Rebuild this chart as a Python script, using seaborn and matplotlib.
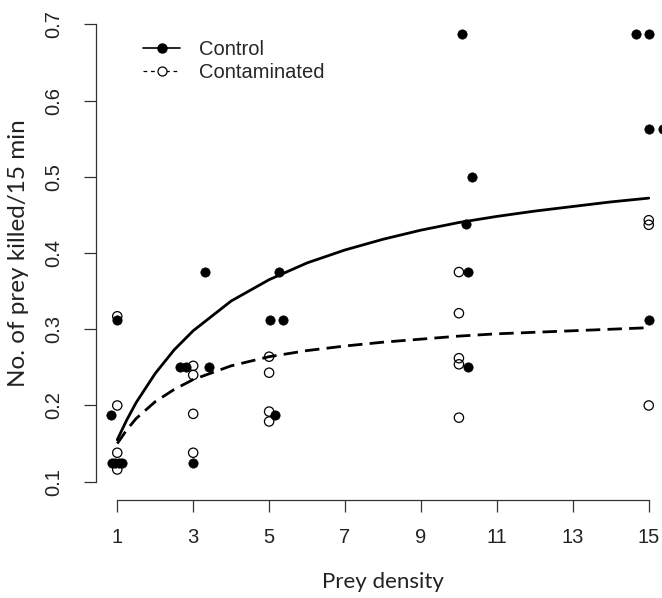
import matplotlib
matplotlib.use("Agg")
import matplotlib.pyplot as plt
from matplotlib.lines import Line2D
import seaborn as sns
import pandas as pd

# Observed points, control group (filled). x carries the small side-jitter seen in the figure
control_x = [1.00, 0.84, 0.85, 0.95, 1.05, 1.12,
             2.65, 2.80, 3.42, 3.00, 3.32,
             5.03, 5.37, 5.26, 5.16,
             10.08, 10.34, 10.18, 10.24, 10.24,
             14.66, 15.00, 15.00, 15.37, 15.00]
control_y = [0.3125, 0.1875, 0.125, 0.125, 0.125, 0.125,
             0.25, 0.25, 0.25, 0.125, 0.375,
             0.3125, 0.3125, 0.375, 0.1875,
             0.6875, 0.5, 0.4375, 0.375, 0.25,
             0.6875, 0.6875, 0.5625, 0.5625, 0.3125]

# Observed points, contaminated group (open)
contam_x = [1, 1, 1, 1,
            3, 3, 3, 3,
            5, 5, 5, 5,
            10, 10, 10, 10, 10,
            15, 15, 15]
contam_y = [0.317, 0.200, 0.138, 0.116,
            0.252, 0.240, 0.189, 0.138,
            0.264, 0.243, 0.192, 0.179,
            0.375, 0.321, 0.262, 0.254, 0.184,
            0.443, 0.437, 0.200]

# Fitted response curves
curve_x = [1, 1.25, 1.5, 2, 2.5, 3, 4, 5, 6, 7, 8, 9, 10, 11, 12, 13, 14, 15]
control_fit = [0.155, 0.181, 0.204, 0.242, 0.273, 0.298, 0.337, 0.365, 0.387,
               0.404, 0.418, 0.430, 0.440, 0.448, 0.455, 0.461, 0.467, 0.472]
contam_fit = [0.150, 0.168, 0.183, 0.205, 0.221, 0.234, 0.252, 0.264, 0.272,
              0.278, 0.283, 0.287, 0.291, 0.294, 0.296, 0.298, 0.300, 0.302]

x_ticks = [1, 3, 5, 7, 9, 11, 13, 15]
y_ticks = [0.1, 0.2, 0.3, 0.4, 0.5, 0.6, 0.7]

sns.set_theme(style="ticks")
plt.rcParams['font.family'] = ['Liberation Sans', 'DejaVu Sans']

ctrl = pd.DataFrame({"density": control_x, "killed": control_y})
cont = pd.DataFrame({"density": contam_x, "killed": contam_y})
fits = pd.DataFrame({"density": curve_x, "control": control_fit, "contam": contam_fit})

fig = plt.figure(figsize=(6.62, 5.98), dpi=100, facecolor="white")
# axes run a little past the right edge, like the cropped original
ax = fig.add_axes([96 / 662, 98 / 598, 574 / 662, 494 / 598])
ax.set_facecolor("white")

sns.scatterplot(ax=ax, data=ctrl, x="density", y="killed", s=45, color="black",
                edgecolor="black", linewidth=0.5, zorder=3, clip_on=False)
sns.scatterplot(ax=ax, data=cont, x="density", y="killed", s=45, marker="o",
                facecolor="none", edgecolor="black", linewidth=0.9, zorder=3)
sns.lineplot(ax=ax, data=fits, x="density", y="control", color="black", linewidth=2.0, zorder=4)
sns.lineplot(ax=ax, data=fits, x="density", y="contam", color="black", linewidth=2.0,
             linestyle=(0, (5.2, 2.6)), zorder=4)

ax.set_xlim(0.44, 15.56)
ax.set_ylim(0.076, 0.724)
ax.set_xticks(x_ticks)
ax.set_xticklabels([str(t) for t in x_ticks])
ax.set_yticks(y_ticks)
ax.set_yticklabels([f"{t:.1f}" for t in y_ticks])

for side in ["top", "right"]:
    ax.spines[side].set_visible(False)
ax.spines["left"].set_bounds(0.1, 0.7)
ax.spines["bottom"].set_bounds(1, 15)
for side in ["left", "bottom"]:
    ax.spines[side].set_color("#333333")
    ax.spines[side].set_linewidth(0.9)

ax.tick_params(axis="both", direction="out", length=8.5, width=0.9, color="#333333",
               labelsize=14.5, labelcolor="#222222")
ax.tick_params(axis="x", pad=12)
ax.tick_params(axis="y", pad=15, labelrotation=90)
plt.setp(ax.get_yticklabels(), va="center")

ax.set_xlabel("Prey density", family="Lato", fontsize=16, color="#222222", labelpad=18)
ax.set_ylabel("No. of prey killed/15 min", family="Lato", fontsize=17.5, color="#222222", labelpad=11)

handles = [
    Line2D([], [], color="black", linewidth=1.2, marker="o", markersize=6.5,
           markerfacecolor="black"),
    Line2D([], [], color="black", linewidth=0.9, linestyle=(0, (3, 3)), marker="o",
           markersize=6.5, markerfacecolor="white", markeredgewidth=0.9),
]
ax.legend(handles, ["Control", "Contaminated"], loc="upper left",
          bbox_to_anchor=(0.082, 0.931), frameon=False, fontsize=14.5,
          handlelength=1.85, handletextpad=0.95, labelspacing=0.2,
          borderpad=0, borderaxespad=0)

fig.savefig("out.png", dpi=100, facecolor="white")
